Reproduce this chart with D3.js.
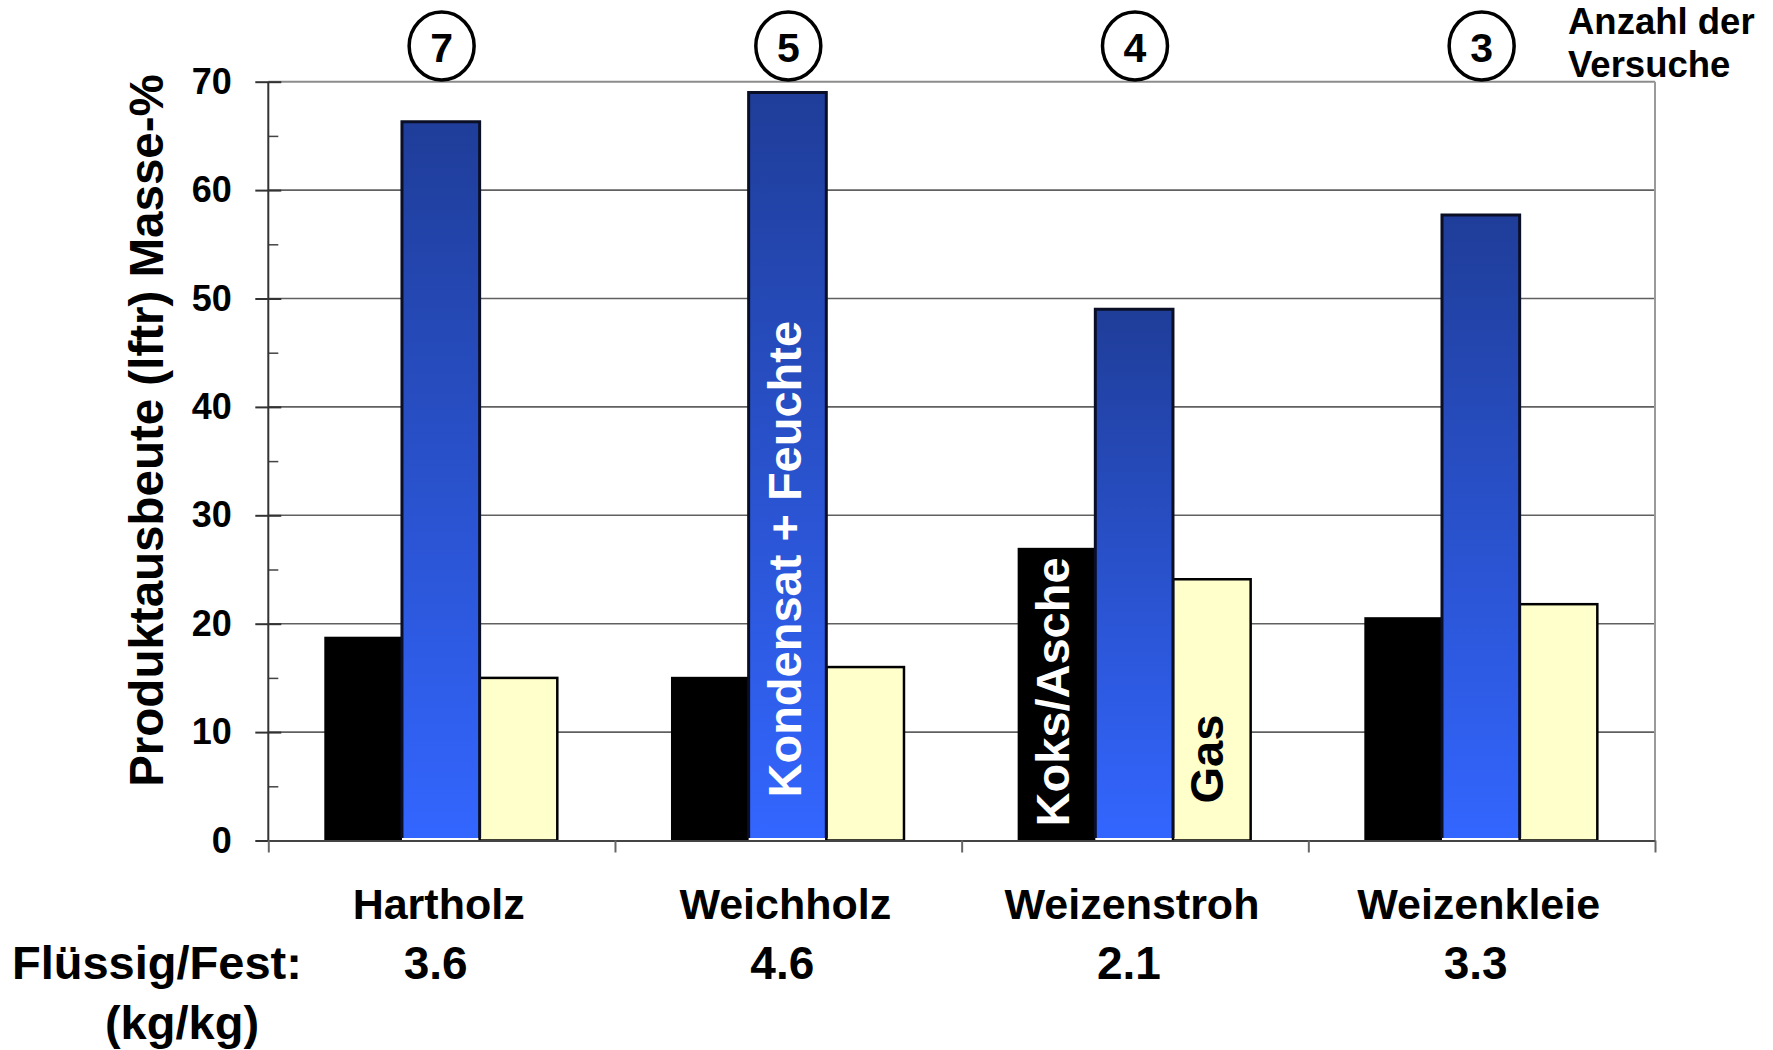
<!DOCTYPE html>
<html>
<head>
<meta charset="utf-8">
<script src="https://cdn.jsdelivr.net/npm/d3@7"></script>
<style>
  html, body { margin: 0; padding: 0; background: #fff; }
  svg { display: block; }
  text { font-family: "Liberation Sans", Arial, Helvetica, sans-serif; font-weight: bold; fill: #000; }
</style>
</head>
<body>
<svg id="chart" width="1773" height="1050"></svg>
<script>
// Product yields per feedstock (Masse-%, lftr)
const categories = ["Hartholz", "Weichholz", "Weizenstroh", "Weizenkleie"];
const seriesNames = ["Koks/Asche", "Kondensat + Feuchte", "Gas"];
const koksAsche = [18.8, 15.1, 27.0, 20.6];
const kondensatFeuchte = [66.3, 69.0, 49.0, 57.7];
const gas = [15.0, 16.0, 24.1, 21.8];
const trialCounts = [7, 5, 4, 3];
const liquidSolidRatio = ["3.6", "4.6", "2.1", "3.3"];
const yMajorTicks = [0, 10, 20, 30, 40, 50, 60, 70];
const yMinorTicks = [5, 15, 25, 35, 45, 55, 65];

const svg = d3.select("#chart");
svg.append("rect").attr("width", 1773).attr("height", 1050).attr("fill", "#fff");

const plotLeft = 268.3, plotRight = 1655, plotTop = 81.7, plotBottom = 840.5;

const y = d3.scaleLinear().domain([0, 70]).range([plotBottom, plotTop]);
const x0 = d3.scaleBand().domain(categories).range([plotLeft, plotRight]).padding(0);
const x1 = d3.scaleBand().domain(seriesNames).range([56, 289]).padding(0);
const edge = d3.scaleLinear().domain([0, categories.length]).range([plotLeft, plotRight]);

// gradient for the condensate bars
const defs = svg.append("defs");
const grad = defs.append("linearGradient").attr("id", "blueGrad")
  .attr("x1", 0).attr("y1", 0).attr("x2", 0).attr("y2", 1);
grad.append("stop").attr("offset", "0%").attr("stop-color", "#1f3d99");
grad.append("stop").attr("offset", "100%").attr("stop-color", "#3366ff");

// horizontal gridlines
svg.append("g").selectAll("line")
  .data(yMajorTicks.filter(d => d > 0))
  .join("line")
  .attr("x1", plotLeft).attr("x2", plotRight)
  .attr("y1", d => y(d)).attr("y2", d => y(d))
  .attr("stroke", d => d === 70 ? "#8c8c8c" : "#606060")
  .attr("stroke-width", d => d === 70 ? 2 : 1.6);

// right frame edge
svg.append("line")
  .attr("x1", plotRight).attr("x2", plotRight).attr("y1", y(70)).attr("y2", y(0))
  .attr("stroke", "#9a9a9a").attr("stroke-width", 2);

// bars
const groups = svg.append("g").selectAll("g")
  .data(categories)
  .join("g")
  .attr("transform", d => `translate(${x0(d)},0)`);

groups.each(function (cat, i) {
  const g = d3.select(this);
  const w = x1.bandwidth();
  // Koks/Asche
  g.append("rect")
    .attr("x", x1(seriesNames[0])).attr("y", y(koksAsche[i]))
    .attr("width", w).attr("height", y(0) - y(koksAsche[i]))
    .attr("fill", "#000");
  // Gas
  g.append("rect")
    .attr("x", x1(seriesNames[2])).attr("y", y(gas[i]))
    .attr("width", w).attr("height", y(0) - y(gas[i]))
    .attr("fill", "#ffffcc").attr("stroke", "#000").attr("stroke-width", 2.5);
  // Kondensat + Feuchte
  const bx = x1(seriesNames[1]);
  const by = y(kondensatFeuchte[i]);
  g.append("rect")
    .attr("x", bx).attr("y", by)
    .attr("width", w).attr("height", y(0) - 2.5 - by)
    .attr("fill", "url(#blueGrad)");
  g.append("path")
    .attr("d", `M${bx},${y(0) - 2.5}V${by}H${bx + w}V${y(0) - 2.5}`)
    .attr("fill", "none").attr("stroke", "#0b0f26").attr("stroke-width", 3);
});

// y axis: major ticks across the axis line, minor ticks inside
const yAxis = svg.append("g").attr("transform", `translate(${plotLeft},0)`)
  .call(d3.axisLeft(y).tickValues(yMajorTicks).tickSize(13).tickPadding(23.6).tickSizeOuter(0));
yAxis.select(".domain").remove();
yAxis.selectAll(".tick line").attr("stroke", "#333").attr("stroke-width", 2);
yAxis.selectAll(".tick text")
  .attr("font-size", 36).attr("font-family", "'Liberation Sans', Arial, sans-serif")
  .attr("font-weight", "bold").attr("fill", "#000");

const yAxisInner = svg.append("g").attr("transform", `translate(${plotLeft},0)`)
  .call(d3.axisRight(y).tickValues(yMajorTicks).tickSize(13).tickFormat(""));
yAxisInner.select(".domain").remove();
yAxisInner.selectAll(".tick line").attr("stroke", "#333").attr("stroke-width", 2);

const yMinor = svg.append("g").attr("transform", `translate(${plotLeft},0)`)
  .call(d3.axisRight(y).tickValues(yMinorTicks).tickSize(10).tickFormat(""));
yMinor.select(".domain").remove();
yMinor.selectAll(".tick line").attr("stroke", "#444").attr("stroke-width", 1.5);

svg.append("line")
  .attr("x1", plotLeft).attr("x2", plotLeft).attr("y1", y(70)).attr("y2", y(0))
  .attr("stroke", "#333").attr("stroke-width", 2);

// x axis with ticks at category boundaries
const xAxis = svg.append("g").attr("transform", `translate(0,${plotBottom})`)
  .call(d3.axisBottom(edge).tickValues(d3.range(categories.length + 1)).tickSize(12).tickSizeOuter(0).tickFormat(""));
xAxis.select(".domain").attr("stroke", "#444").attr("stroke-width", 2);
xAxis.selectAll(".tick line").attr("stroke", "#666").attr("stroke-width", 2);

// category names and liquid/solid ratios
svg.append("g").selectAll("text")
  .data(categories)
  .join("text")
  .attr("x", d => x0(d) + x0.bandwidth() / 2 - 3)
  .attr("y", 919)
  .attr("text-anchor", "middle")
  .attr("font-size", 43)
  .text(d => d);

svg.append("g").selectAll("text")
  .data(liquidSolidRatio)
  .join("text")
  .attr("x", (d, i) => x0(categories[i]) + x0.bandwidth() / 2 - 6)
  .attr("y", 979)
  .attr("text-anchor", "middle")
  .attr("font-size", 46)
  .text(d => d);

svg.append("text").attr("x", 12).attr("y", 979).attr("font-size", 47).text("Flüssig/Fest:");
svg.append("text").attr("x", 182).attr("y", 1039).attr("text-anchor", "middle").attr("font-size", 47).text("(kg/kg)");

// circled trial counts
const trials = svg.append("g").selectAll("g")
  .data(trialCounts)
  .join("g")
  .attr("transform", (d, i) => `translate(${x0(categories[i]) + x0.bandwidth() / 2},46)`);
trials.append("ellipse").attr("rx", 32.5).attr("ry", 34)
  .attr("fill", "#fff").attr("stroke", "#000").attr("stroke-width", 3.5);
trials.append("text").attr("y", 15.5).attr("text-anchor", "middle").attr("font-size", 41).text(d => d);

svg.append("text").attr("x", 1568).attr("y", 34).attr("font-size", 36.5).text("Anzahl der");
svg.append("text").attr("x", 1568).attr("y", 77).attr("font-size", 36.5).text("Versuche");

// y axis title
svg.append("text")
  .attr("transform", `translate(163,${(73 + 788) / 2}) rotate(-90)`)
  .attr("text-anchor", "middle")
  .attr("font-size", 47.5)
  .text("Produktausbeute (lftr) Masse-%");

// series names written inside the bars
const labelFont = 47;
const inBarLabels = [
  { cat: "Weizenstroh", series: seriesNames[0], lift: 14, dx: 13, color: "#fff" },
  { cat: "Weichholz", series: seriesNames[1], lift: 43, dx: 14, color: "#fff" },
  { cat: "Weizenstroh", series: seriesNames[2], lift: 37, dx: 11, color: "#000" }
];
svg.append("g").selectAll("text")
  .data(inBarLabels)
  .join("text")
  .attr("transform", d => {
    const cx = x0(d.cat) + x1(d.series) + x1.bandwidth() / 2 + d.dx;
    return `translate(${cx},${y(0) - d.lift}) rotate(-90)`;
  })
  .attr("font-size", labelFont)
  .style("fill", d => d.color)
  .text(d => d.series);
</script>
</body>
</html>
